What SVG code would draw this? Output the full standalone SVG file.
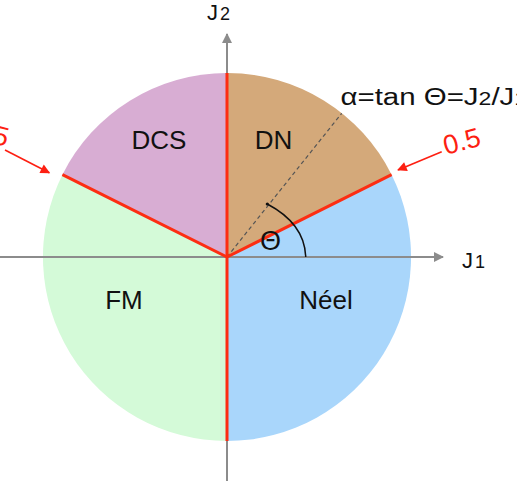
<svg xmlns="http://www.w3.org/2000/svg" width="517" height="481" viewBox="0 0 517 481">
<defs>
<style>
.lbl{font-family:"Liberation Sans",Arial,sans-serif;fill:#111;}
.reg{font-size:26px;text-anchor:middle;}
.axis{stroke:#8c8c8c;stroke-width:2;fill:none;}
.bound{stroke:#fd2d12;stroke-width:3;fill:none;stroke-linecap:butt;}
.ptr{stroke:#fd1f12;stroke-width:1.6;fill:none;}
.red{font-family:"Liberation Sans",Arial,sans-serif;fill:#fd1f12;font-size:27px;}
</style>
<marker id="ga" viewBox="0 0 10 10" refX="9" refY="5" markerWidth="5" markerHeight="5" orient="auto" markerUnits="strokeWidth"><path d="M0,0 L10,5 L0,10 Z" fill="#8c8c8c"/></marker>
<marker id="ra" viewBox="0 0 10 10" refX="9" refY="5" markerWidth="7" markerHeight="6" orient="auto" markerUnits="strokeWidth"><path d="M0,0 L10,5 L0,10 Z" fill="#fd1f12"/></marker>
</defs>
<g id="sectors">
<g id="DN"><path d="M227,257 L227,73 A184,184 0 0 1 391.6,174.7 Z" fill="#d4a97a"/></g>
<g id="Neel"><path d="M227,257 L391.6,174.7 A184,184 0 0 1 227,441 Z" fill="#a9d6fb"/></g>
<g id="FM"><path d="M227,257 L227,441 A184,184 0 0 1 62.4,174.7 Z" fill="#d4fad8"/></g>
<g id="DCS"><path d="M227,257 L62.4,174.7 A184,184 0 0 1 227,73 Z" fill="#d8add3"/></g>
</g>
<g id="connectors">
<line class="axis" x1="0" y1="257" x2="443" y2="257" marker-end="url(#ga)"/>
<line class="axis" x1="227" y1="481" x2="227" y2="34" marker-end="url(#ga)"/>
<line x1="227" y1="257" x2="341.7" y2="113.3" stroke="#555" stroke-width="1.2" stroke-dasharray="4,3"/>
<line class="bound" x1="227" y1="73" x2="227" y2="441"/>
<line class="bound" x1="227" y1="257" x2="391.6" y2="174.7"/>
<line class="bound" x1="227" y1="257" x2="62.4" y2="174.7"/>
<path d="M267.3,204 C290,216 305,232 305.7,257" stroke="#111" stroke-width="1.5" fill="none"/>
<circle cx="267.3" cy="204" r="1.6" fill="#111"/>
<line class="ptr" x1="441.7" y1="151.7" x2="398" y2="170" marker-end="url(#ra)"/>
<line class="ptr" x1="5" y1="150" x2="49.3" y2="172.7" marker-end="url(#ra)"/>
</g>
<g id="labels">
<text class="lbl reg" x="159" y="149">DCS</text>
<text class="lbl reg" x="273.5" y="149">DN</text>
<text class="lbl reg" x="124" y="309">FM</text>
<text class="lbl reg" x="326" y="309">Néel</text>
<text class="lbl" x="260" y="250" font-size="27">Θ</text>
<text class="lbl" x="207" y="20" font-size="22">J<tspan font-size="18" dx="2">2</tspan></text>
<text class="lbl" x="462" y="267.5" font-size="22">J<tspan font-size="18" dx="2">1</tspan></text>
<text class="lbl" font-size="23" transform="translate(340.5,105) scale(1.28,1)">α=tan Θ=J<tspan font-size="18">2</tspan>/J<tspan font-size="18">1</tspan></text>
<text class="red" transform="translate(446,155) rotate(-15)">0.5</text>
<text class="red" text-anchor="end" transform="translate(6,147) rotate(15)">0.5</text>
</g>
</svg>
